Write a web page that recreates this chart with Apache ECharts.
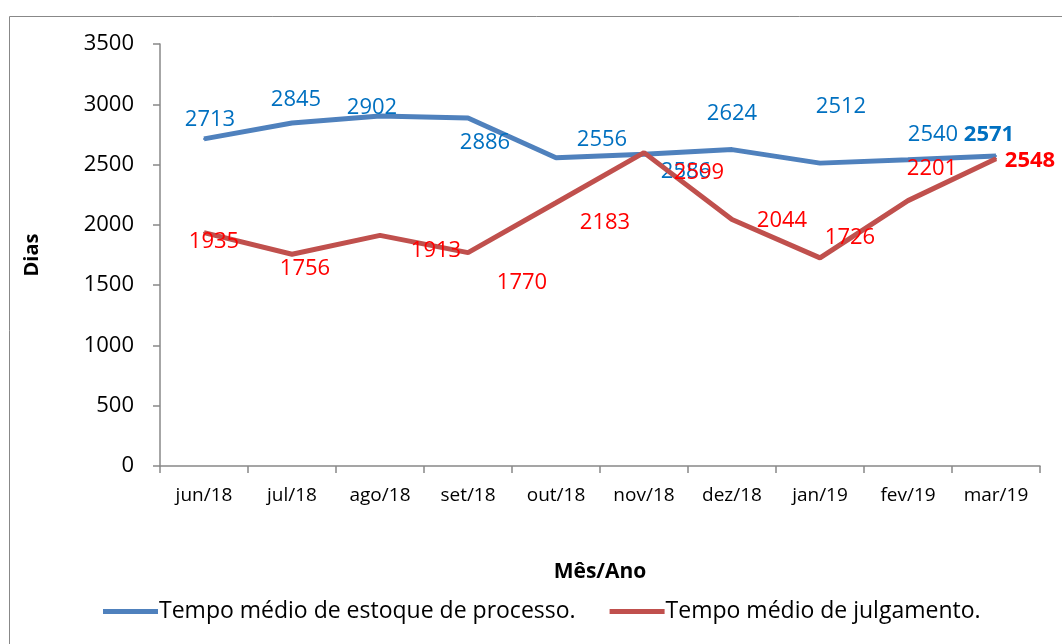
<!DOCTYPE html>
<html>
<head>
<meta charset="utf-8">
<script src="https://cdn.jsdelivr.net/npm/echarts@6/dist/echarts.min.js"></script>
<style>
  html, body { margin: 0; padding: 0; background: #fff; }
  #chart { width: 1062px; height: 644px; }
</style>
</head>
<body>
<div id="chart"></div>
<script>
// meses
const months = ['jun/18', 'jul/18', 'ago/18', 'set/18', 'out/18', 'nov/18', 'dez/18', 'jan/19', 'fev/19', 'mar/19'];
// tempo médio de estoque de processo (dias)
const estoque = [2713, 2845, 2902, 2886, 2556, 2586, 2624, 2512, 2540, 2571];
// tempo médio de julgamento (dias)
const julgamento = [1935, 1756, 1913, 1770, 2183, 2599, 2044, 1726, 2201, 2548];

// deslocamento dos rótulos (como no gráfico original)
const estoqueOffsets = [[6, -19], [4, -23], [-8, -8], [17, 25], [46, -18], [42, 18], [0, -36], [21, -56], [25, -25], [-7, -21]];
const julgOffsets = [[10, 9], [13, 14], [56, 15], [54, 30], [49, 20], [55, 20], [50, 1], [30, -20], [24, -32], [34, 2]];

const font = '"Open Sans", Lato, sans-serif';

const buildData = (values, offsets) =>
  values.map((v, i) => ({
    value: v,
    label: {
      offset: offsets[i],
      fontWeight: i === values.length - 1 ? 'bold' : 'normal',
    },
  }));

const myChart = echarts.init(document.getElementById('chart'), null, { renderer: 'canvas' });

const option = {
  animation: false,
  backgroundColor: '#fff',
  graphic: [
    {
      type: 'rect',
      left: 7,
      top: 14,
      shape: { width: 1070, height: 650 },
      style: { fill: 'none', stroke: '#888', lineWidth: 1 },
      silent: true,
    },
  ],
  grid: { left: 160, right: 22, top: 44, bottom: 178 },
  legend: {
    left: 98,
    top: 595,
    itemWidth: 55,
    itemHeight: 5,
    itemGap: 34,
    icon: 'rect',
    textStyle: { fontFamily: font, fontSize: 23, color: '#000', padding: [0, 0, 0, -4] },
    data: ['Tempo médio de estoque de processo.', 'Tempo médio de julgamento.'],
  },
  xAxis: {
    type: 'category',
    data: months,
    name: 'Mês/Ano',
    nameLocation: 'middle',
    nameGap: 96,
    nameTextStyle: { fontFamily: font, fontSize: 21, fontWeight: 'bold', color: '#000' },
    axisLine: { lineStyle: { color: '#888', width: 1.5 } },
    axisTick: { show: true, length: 7, lineStyle: { color: '#888', width: 1.5 } },
    axisLabel: { fontFamily: font, fontSize: 19, color: '#000', margin: 20 },
  },
  yAxis: {
    type: 'value',
    min: 0,
    max: 3500,
    interval: 500,
    name: 'Dias',
    nameLocation: 'middle',
    nameRotate: 90,
    nameGap: 118,
    nameTextStyle: { fontFamily: font, fontSize: 20, fontWeight: 'bold', color: '#000' },
    axisLine: { show: true, lineStyle: { color: '#888', width: 1.5 } },
    axisTick: { show: true, length: 7, lineStyle: { color: '#888', width: 1.5 } },
    splitLine: { show: false },
    axisLabel: { fontFamily: font, fontSize: 22, color: '#000', margin: 26, formatter: (v) => String(v) },
  },
  series: [
    {
      name: 'Tempo médio de estoque de processo.',
      type: 'line',
      data: buildData(estoque, estoqueOffsets),
      symbol: 'circle',
      symbolSize: 2,
      color: '#4F81BD',
      lineStyle: { width: 5, color: '#4F81BD' },
      label: {
        show: true,
        position: 'inside',
        color: '#0070C0',
        fontFamily: font,
        fontSize: 22,
      },
      z: 3,
    },
    {
      name: 'Tempo médio de julgamento.',
      type: 'line',
      data: buildData(julgamento, julgOffsets),
      symbol: 'circle',
      symbolSize: 2,
      color: '#C0504D',
      lineStyle: { width: 5, color: '#C0504D' },
      label: {
        show: true,
        position: 'inside',
        color: '#FF0000',
        fontFamily: font,
        fontSize: 22,
      },
      z: 4,
    },
  ],
};

myChart.setOption(option);
</script>
</body>
</html>
